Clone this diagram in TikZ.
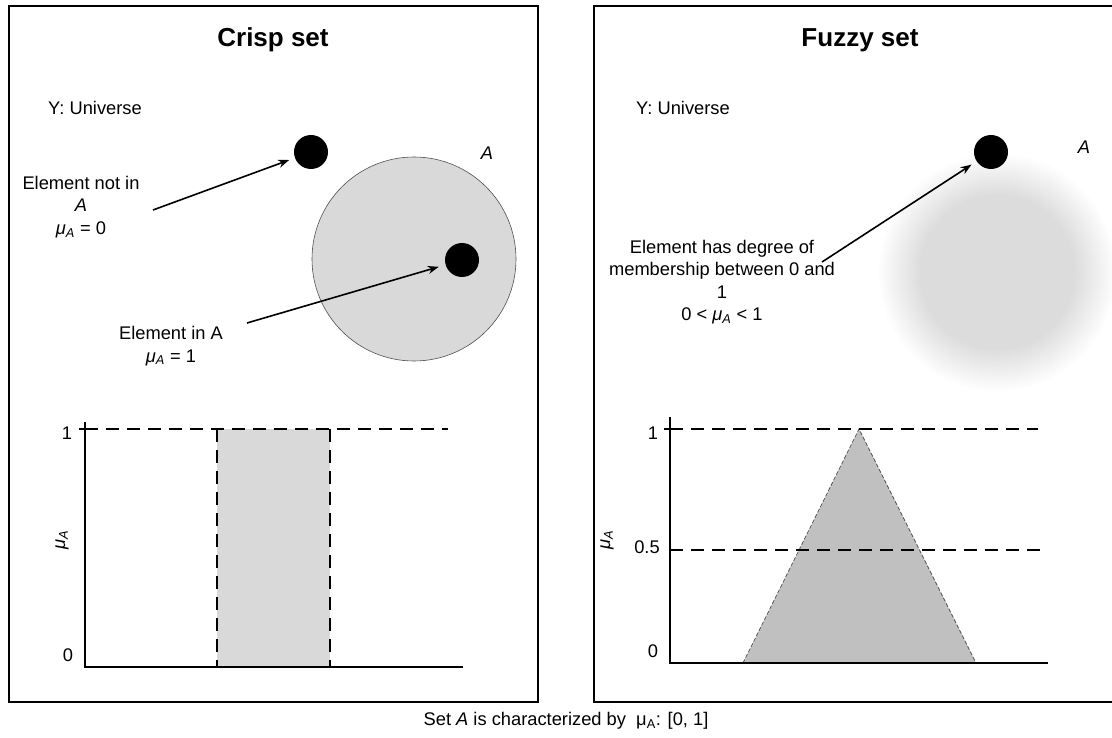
\documentclass[tikz,border=0pt]{standalone}
\usepackage{fontspec}
\setmainfont{Liberation Sans}
\usetikzlibrary{arrows.meta}

\definecolor{setgray}{HTML}{D9D9D9}
\definecolor{blobgray}{HTML}{DCDCDC}
\definecolor{trigray}{HTML}{C0C0C0}
\definecolor{edgegray}{HTML}{505050}
\pgfdeclareradialshading{fuzzyblob}{\pgfpoint{0bp}{0bp}}{%
  color(0bp)=(blobgray); color(16bp)=(blobgray); color(25bp)=(white); color(50bp)=(white)}

\newcommand{\muA}{\textit{μ\textsubscript{A}}}

\begin{document}
\begin{tikzpicture}[x=1pt, y=-1pt, >={Stealth[length=11pt,width=8pt]},
  txt/.style={font=\fontsize{18.3}{22.5}\selectfont, inner sep=0pt, align=center},
  setlbl/.style={font=\fontsize{18.3}{22.5}\selectfont\itshape, inner sep=0pt},
  ttl/.style={font=\fontsize{26}{30}\selectfont\bfseries, inner sep=0pt},
  elem/.style={circle, fill=black, inner sep=0pt, minimum size=34pt},
  limitline/.style={line width=1.6pt, dash pattern=on 13pt off 8pt},
  axisline/.style={line width=1.8pt},
  pointer/.style={->, line width=1.6pt, shorten >=6pt}]
\useasboundingbox (0,0) rectangle (1112,738);

% panels
\draw[line width=1.5pt] (9,6) rectangle (538,702);
\draw[line width=1.5pt] (594,6) rectangle (1124,702);

% crisp set
\node[ttl] (crispTitle) at (273,40) {Crisp set};
\node[txt, anchor=west] (crispU) at (48,108) {Y: Universe};
\node[circle, draw=edgegray, line width=0.6pt, fill=setgray, inner sep=0pt,
  minimum size=204pt] (setA) at (414,259) {};
\node[setlbl] (crispA) at (487,153) {A};
\node[elem] (outDot) at (311,152) {};
\node[elem] (inDot) at (462,260) {};
\node[txt] (outTxt) at (81,207) {Element not in\\ \textit{A}\\ \muA{} = 0};
\node[txt] (inTxt) at (171,346) {Element in A\\ \muA{} = 1};
\coordinate (outStart) at (153,210);
\coordinate (inStart) at (247,323);
\draw[pointer] (outStart) -- (outDot);
\draw[pointer, shorten >=7pt] (inStart) -- (inDot);

% crisp membership
\fill[setgray] (217,429) rectangle (330,667);
\draw[limitline] (85,429) -- (448,429);
\draw[limitline] (217,429) -- (217,667);
\draw[limitline] (330,429) -- (330,667);
\draw[axisline] (85,422) -- (85,667) -- (463,667);
\draw[axisline] (79,429) -- (85,429);
\node[txt] (crispOne) at (67,433) {1};
\node[txt] (crispZero) at (68,655) {0};
\node[txt, rotate=90] (crispMu) at (62,540) {\muA};

% fuzzy set
\shade[shading=fuzzyblob] (997,272) circle (120);
\node[ttl] (fuzzyTitle) at (860,40) {Fuzzy set};
\node[txt, anchor=west] (fuzzyU) at (636,108) {Y: Universe};
\node[setlbl] (fuzzyA) at (1084,147) {A};
\node[elem] (midDot) at (991,152) {};
\node[txt] (midTxt) at (722,282) {Element has degree of\\ membership between 0 and\\ 1\\ 0 < \muA{} < 1};
\coordinate (midStart) at (822,262);
\draw[pointer] (midStart) -- (midDot);

% fuzzy membership
\fill[trigray] (743,663) -- (859,429) -- (976,663) -- cycle;
\draw[edgegray, line width=0.7pt, dash pattern=on 4pt off 2pt]
  (743,663) -- (859,429) -- (976,663);
\draw[limitline] (670,429) -- (1038,429);
\draw[limitline] (670,550) -- (1042,550);
\draw[axisline] (670,417) -- (670,663) -- (1048,663);
\draw[axisline] (664,429) -- (670,429);
\node[txt] (fuzzyOne) at (653,433) {1};
\node[txt] (fuzzyHalf) at (647,547) {0.5};
\node[txt] (fuzzyZero) at (653,651) {0};
\node[txt, rotate=90] (fuzzyMu) at (607,540) {\muA};

% caption
\node[txt] (caption) at (566,721) {Set \textit{A} is characterized by\ \ μ\textsubscript{A}: [0, 1]};
\end{tikzpicture}
\end{document}
